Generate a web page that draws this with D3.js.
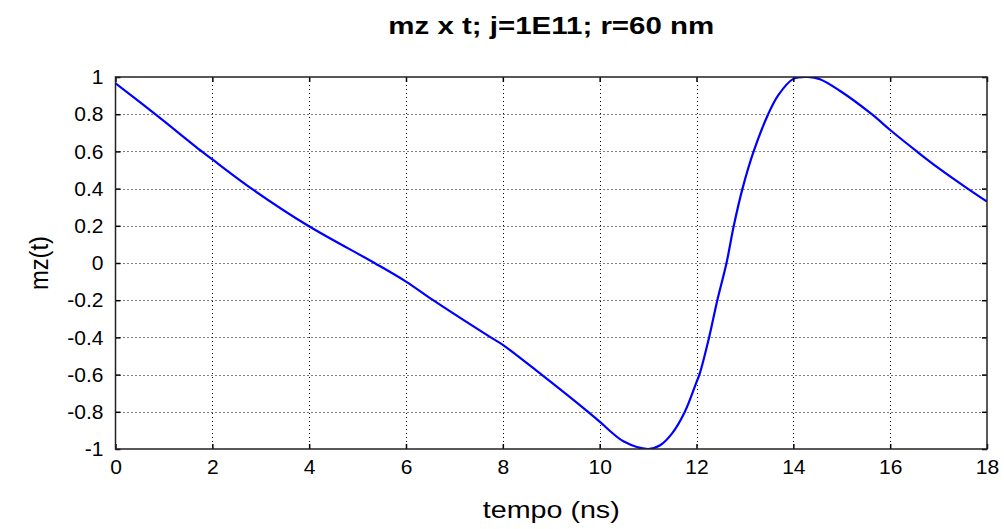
<!DOCTYPE html>
<html>
  <head>
    <meta charset="utf-8">
    <title>mz x t</title>
    <style>
      body { margin: 0; background: #fff; }
      svg { display: block; font-family: "Liberation Sans", Arial, sans-serif; }
      .grid line { stroke: #000; stroke-dasharray: 1,3; stroke-width: 1; }
      .tick text { font-size: 21px; fill: #000; }
      .title { font-size: 24px; font-weight: bold; text-anchor: middle; }
      .axlabel { font-size: 24px; text-anchor: middle; }
    </style>
  </head>
  <body>
    <div id="chart"></div>
    <script src="https://d3js.org/d3.v7.min.js"></script>
    <script>
    // values (t in ns, mz)
    var tempo = [0, 0.82, 1.78, 2, 2.81, 3.98, 5.35, 6, 6.56, 7.75, 8, 8.8, 9.76,
                 10, 10.5, 11, 11.25, 11.5, 11.76, 12, 12.06, 12.26, 12.43, 12.62, 12.77,
                 12.95, 13.18, 13.48, 13.69, 14, 14.3, 14.55, 14.96, 15.62, 16, 16.55, 17, 17.6, 18];
    var mz =    [0.966, 0.8, 0.6, 0.557, 0.4, 0.2, 0, -0.1, -0.2, -0.4, -0.44, -0.6, -0.8,
                 -0.853, -0.96, -1.0, -0.98, -0.915, -0.8, -0.64, -0.6, -0.4, -0.2, 0, 0.2,
                 0.4, 0.6, 0.8, 0.903, 0.99, 1.0, 0.988, 0.926, 0.8, 0.715, 0.6, 0.51, 0.4, 0.33];
    var xTicks = [0, 2, 4, 6, 8, 10, 12, 14, 16, 18];
    var yTicks = [-1, -0.8, -0.6, -0.4, -0.2, 0, 0.2, 0.4, 0.6, 0.8, 1];

    function drawChart() {
      var width = 1004, height = 529;
      var m = { left: 115.5, right: 987, top: 77, bottom: 449 };

      var svg = d3.select('#chart').append('svg')
        .attr('width', width)
        .attr('height', height);

      var x = d3.scaleLinear().domain([0, 18]).range([m.left, m.right]);
      var y = d3.scaleLinear().domain([-1, 1]).range([m.bottom, m.top]);

      var fmt = function(d) { return String(+d.toFixed(1)); };

      // grid
      var grid = svg.append('g').attr('class', 'grid');
      grid.selectAll('.gx').data(xTicks.slice(1, -1)).enter().append('line')
        .attr('x1', function(d) { return Math.round(x(d)) + 0.5; })
        .attr('x2', function(d) { return Math.round(x(d)) + 0.5; })
        .attr('y1', m.top).attr('y2', m.bottom);
      grid.selectAll('.gy').data(yTicks.slice(1, -1)).enter().append('line')
        .attr('y1', function(d) { return Math.round(y(d)) + 0.5; })
        .attr('y2', function(d) { return Math.round(y(d)) + 0.5; })
        .attr('x1', m.left).attr('x2', m.right);

      // the curve
      svg.append('clipPath').attr('id', 'clip')
        .append('rect').attr('x', m.left).attr('y', m.top)
        .attr('width', m.right - m.left).attr('height', m.bottom - m.top);

      var line = d3.line()
        .x(function(d, i) { return x(tempo[i]); })
        .y(function(d) { return y(d); })
        .curve(d3.curveCatmullRom.alpha(0.5));

      svg.append('path')
        .datum(mz)
        .attr('clip-path', 'url(#clip)')
        .attr('fill', 'none')
        .attr('stroke', '#0000ff')
        .attr('stroke-width', 2.2)
        .attr('d', line);

      // axes, ticks inward on all four sides
      var xb = svg.append('g').attr('transform', 'translate(0,' + m.bottom + ')')
        .call(d3.axisBottom(x).tickValues(xTicks).tickSizeInner(-5).tickSizeOuter(0).tickPadding(10).tickFormat(fmt));
      var xt = svg.append('g').attr('transform', 'translate(0,' + m.top + ')')
        .call(d3.axisTop(x).tickValues(xTicks).tickSizeInner(-5).tickSizeOuter(0).tickFormat(''));
      var yl = svg.append('g').attr('transform', 'translate(' + m.left + ',0)')
        .call(d3.axisLeft(y).tickValues(yTicks).tickSizeInner(-5).tickSizeOuter(0).tickPadding(12).tickFormat(fmt));
      var yr = svg.append('g').attr('transform', 'translate(' + m.right + ',0)')
        .call(d3.axisRight(y).tickValues(yTicks).tickSizeInner(-5).tickSizeOuter(0).tickFormat(''));

      [xb, xt, yl, yr].forEach(function(g) {
        g.select('.domain').remove();
        g.selectAll('.tick line').attr('stroke', '#000').attr('stroke-width', 1.5);
        g.attr('font-family', null).attr('font-size', null);
      });

      svg.append('rect')
        .attr('x', m.left).attr('y', m.top)
        .attr('width', m.right - m.left).attr('height', m.bottom - m.top)
        .attr('fill', 'none').attr('stroke', '#222').attr('stroke-width', 1.5);

      // texts (the reference glyphs are a bit wider than Liberation Sans)
      svg.append('text').attr('class', 'title')
        .attr('x', (m.left + m.right) / 2).attr('y', 34)
        .attr('textLength', 326).attr('lengthAdjust', 'spacingAndGlyphs')
        .text('mz x t; j=1E11; r=60 nm');
      svg.append('text').attr('class', 'axlabel')
        .attr('x', (m.left + m.right) / 2).attr('y', 518)
        .attr('textLength', 137).attr('lengthAdjust', 'spacingAndGlyphs')
        .text('tempo (ns)');
      svg.append('text').attr('class', 'axlabel')
        .attr('transform', 'translate(48,' + (m.top + m.bottom) / 2 + ') rotate(-90)')
        .style('font-size', '26px')
        .attr('textLength', 54).attr('lengthAdjust', 'spacingAndGlyphs')
        .text('mz(t)');
    }
    drawChart();
    </script>
  </body>
</html>
